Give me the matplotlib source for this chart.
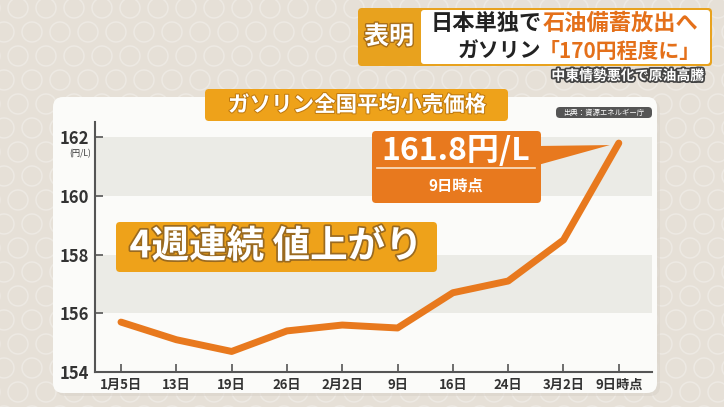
import numpy as np
import matplotlib.pyplot as plt
import matplotlib.patheffects as pe
from matplotlib.patches import FancyBboxPatch, Rectangle, Circle, Polygon

plt.rcParams['font.family'] = ['Noto Sans CJK JP', 'DejaVu Sans']

# data
weeks = ['1月5日', '13日', '19日', '26日', '2月2日', '9日', '16日', '24日', '3月2日', '9日時点']
prices = [155.7, 155.1, 154.7, 155.4, 155.6, 155.5, 156.7, 157.1, 158.5, 161.8]
yticks = [154, 156, 158, 160, 162]

W, H = 724, 407
ORANGE = '#e8791e'
GOLD = '#eea21a'

fig = plt.figure(figsize=(W / 100, H / 100), dpi=100)


def px_axes(x0, y0, x1, y1, **kw):
    # axes from pixel box (top-left origin)
    return fig.add_axes([x0 / W, 1 - y1 / H, (x1 - x0) / W, (y1 - y0) / H], **kw)


# background with faint circle pattern
bg = px_axes(0, 0, W, H, zorder=0)
bg.set_xlim(0, W)
bg.set_ylim(H, 0)
bg.axis('off')
bg.add_patch(Rectangle((0, 0), W, H, color='#e6e0d7'))
for row, cy in enumerate(np.arange(8, H + 20, 24)):
    for cx in np.arange(-10 + (row % 2) * 14, W + 20, 28):
        bg.add_patch(Circle((cx, cy), 10, fill=False, ec='#ede9e3', lw=1.1))

# white chart panel
bg.add_patch(FancyBboxPatch((56, 100), 604, 296, boxstyle='round,pad=0,rounding_size=10',
                            fc='#d9d3ca', ec='none', alpha=0.6))
bg.add_patch(FancyBboxPatch((53, 97), 604, 296, boxstyle='round,pad=0,rounding_size=10',
                            fc='#fbfbf9', ec='none'))

# plot area
ax = px_axes(95, 122, 652, 372, zorder=1)
ax.patch.set_alpha(0)
ymin = 154
ymax = ymin + (372 - 122) / 29.35
ax.set_ylim(ymin, ymax)
ax.set_xlim(-0.47, 9.6)
for lo, hi in [(160, 162), (156, 158)]:
    ax.axhspan(lo, hi, color='#ebebe6', lw=0, zorder=0)

x = np.arange(len(prices))
ax.plot(x, prices, color=ORANGE, lw=5, solid_capstyle='round', solid_joinstyle='round', zorder=3)

ax.set_yticks(yticks)
ax.set_yticklabels([str(t) for t in yticks], fontsize=12, fontweight='bold', color='#333333')
ax.set_xticks(x)
ax.set_xticklabels(weeks, fontsize=9.5, fontweight='bold', color='#333333')
ax.tick_params(axis='y', direction='in', length=6, width=1.2, color='#555555', pad=4)
ax.tick_params(axis='x', direction='in', length=6, width=1.2, color='#555555', pad=4)
for s in ['top', 'right']:
    ax.spines[s].set_visible(False)
for s in ['left', 'bottom']:
    ax.spines[s].set_color('#555555')
    ax.spines[s].set_linewidth(1.5)

# overlay for labels and boxes
ov = px_axes(0, 0, W, H, zorder=2)
ov.set_xlim(0, W)
ov.set_ylim(H, 0)
ov.axis('off')
ov.patch.set_alpha(0)

shadow = [pe.withStroke(linewidth=2.5, foreground='#9a6a20')]

ov.text(80, 154, '(円/L)', fontsize=6, color='#333333', ha='center', va='center')

# title
ov.add_patch(FancyBboxPatch((205, 89), 303, 32, boxstyle='round,pad=0,rounding_size=4',
                            fc=GOLD, ec='none'))
ov.text(357, 105, 'ガソリン全国平均小売価格', fontsize=15.5, color='white', fontweight='bold',
        ha='center', va='center', path_effects=[pe.withStroke(linewidth=1.5, foreground='#c07a10')])

# source
ov.add_patch(FancyBboxPatch((556, 107), 96, 11, boxstyle='round,pad=0,rounding_size=4',
                            fc='#555555', ec='none'))
ov.text(604, 112.5, '出典：資源エネルギー庁', fontsize=5.3, color='white', ha='center', va='center')

# callout
tip = ov.transData.inverted().transform(ax.transData.transform((9, prices[-1])))
ov.add_patch(Polygon([(538, 146), (538, 165), (tip[0] - 9, tip[1] + 2)], closed=True,
                     fc=ORANGE, ec='none'))
ov.add_patch(FancyBboxPatch((372, 131), 169, 72, boxstyle='round,pad=0,rounding_size=4',
                            fc=ORANGE, ec='none'))
ov.text(456, 151, '161.8円/L', fontsize=23, color='white', fontweight='bold',
        ha='center', va='center')
ov.plot([377, 535], [168, 168], color='#fbe3c8', lw=1.2)
ov.text(456, 186, '9日時点', fontsize=11, color='white', fontweight='bold',
        ha='center', va='center')

# 4 weeks up
ov.add_patch(FancyBboxPatch((116, 222), 321, 50, boxstyle='round,pad=0,rounding_size=4',
                            fc=GOLD, ec='none'))
ov.text(276, 246, '4週連続 値上がり', fontsize=27, color='white', fontweight='bold',
        ha='center', va='center', path_effects=shadow)

# header
ov.add_patch(FancyBboxPatch((358, 8), 354, 58, boxstyle='round,pad=0,rounding_size=4',
                            fc='#e8a21e', ec='none'))
ov.add_patch(FancyBboxPatch((421, 10), 289, 54, boxstyle='round,pad=0,rounding_size=3',
                            fc='white', ec='none'))
ov.text(389, 37, '表明', fontsize=18, color='white', fontweight='bold', ha='center',
        va='center', path_effects=[pe.withStroke(linewidth=2, foreground='#a86e18')])
t1 = ov.text(431, 23, '日本単独で', fontsize=16, color='#222222', fontweight='bold',
             ha='left', va='center')
ov.annotate('石油備蓄放出へ', xycoords=t1, xy=(1, 0.5), va='center', ha='left',
            fontsize=16, color='#e4701a', fontweight='bold')
t2 = ov.text(458, 51, 'ガソリン', fontsize=15, color='#222222', fontweight='bold',
             ha='left', va='center')
ov.annotate('「170円程度に」', xycoords=t2, xy=(0.96, 0.5), va='center', ha='left',
            fontsize=15, color='#e4701a', fontweight='bold')
ov.text(704, 76, '中東情勢悪化で原油高騰', fontsize=10, color='white', fontweight='bold',
        ha='right', va='center', path_effects=[pe.withStroke(linewidth=2.5, foreground='#444444')])

fig.savefig('out.png', dpi=100)
